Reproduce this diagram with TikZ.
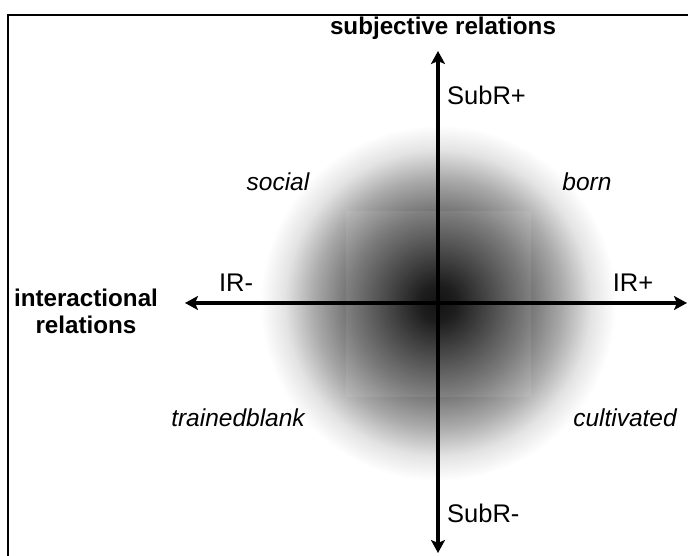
\documentclass[tikz,border=0pt]{standalone}
\usepackage{fontspec}
\setmainfont{Liberation Sans}
\usetikzlibrary{arrows.meta}

% soft dark blob, black at the centre fading to white at the rim
% (the path's bounding box covers the inner 50bp of the shading)
\pgfdeclareradialshading{blob}{\pgfpoint{0bp}{0bp}}{%
  color(0bp)=(black); color(2.5bp)=(black!96); color(6.5bp)=(black!80);
  color(12.5bp)=(black!56); color(17.5bp)=(black!33); color(21.5bp)=(black!11);
  color(25bp)=(white); color(50bp)=(white)}

\tikzset{
  axisline/.style={line width=3.2pt, {Stealth[length=13pt,width=14pt,inset=3pt]}-{Stealth[length=13pt,width=14pt,inset=3pt]}},
  axistitle/.style={inner sep=0pt, align=center, font=\fontsize{24.2}{27}\selectfont\bfseries},
  poletext/.style={inner sep=0pt, font=\fontsize{25.5}{28}\selectfont},
  quadtext/.style={inner sep=0pt, font=\fontsize{24.5}{27}\selectfont\itshape},
}

\begin{document}
\begin{tikzpicture}[x=1pt,y=-1pt]
  \useasboundingbox (0,0) rectangle (688,556);
  \clip (0,0) rectangle (688,556);
  \fill[white] (0,0) rectangle (688,556);

  % open frame running off the right and bottom edges
  \draw[line width=2pt] (8,600) -- (8,15) -- (720,15);

  \coordinate (O) at (438,303);
  \coordinate (N) at (438,51);
  \coordinate (S) at (438,553);
  \coordinate (W) at (185,303);
  \coordinate (E) at (687,303);

  \shade[shading=blob] (O) circle[radius=178pt];
  \fill[white, opacity=0.08] (346,211) rectangle (531,397);

  \draw[axisline] (S) -- (N);
  \draw[axisline] (W) -- (E);

  \node[axistitle] (ttop) at (443,28) {subjective relations};
  \node[axistitle] (tleft) at (86,311) {interactional\\relations};

  \node[poletext, anchor=west] (sp) at (447,95) {SubR+};
  \node[poletext, anchor=west] (sm) at (447,513) {SubR-};
  \node[poletext] (im) at (236,283) {IR-};
  \node[poletext] (ip) at (633,283) {IR+};

  \node[quadtext] (qa) at (278,182) {social};
  \node[quadtext] (qb) at (587,182) {born};
  \node[quadtext] (qc) at (238,418) {trainedblank};
  \node[quadtext] (qd) at (625,418) {cultivated};
\end{tikzpicture}
\end{document}
